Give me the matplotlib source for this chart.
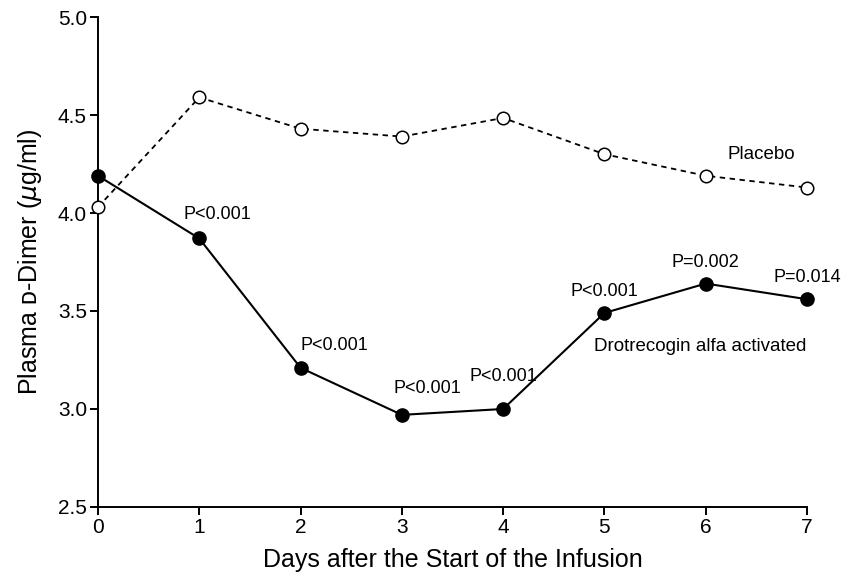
import matplotlib
matplotlib.use("Agg")
import matplotlib.pyplot as plt

days = [0, 1, 2, 3, 4, 5, 6, 7]
placebo = [4.03, 4.59, 4.43, 4.39, 4.485, 4.30, 4.19, 4.13]
drotrecogin = [4.19, 3.87, 3.21, 2.97, 3.00, 3.49, 3.64, 3.56]
p_labels = ["", "P<0.001", "P<0.001", "P<0.001", "P<0.001", "P<0.001", "P=0.002", "P=0.014"]
yticks = [2.5, 3.0, 3.5, 4.0, 4.5, 5.0]

plt.rcParams['font.family'] = ['Liberation Sans', 'DejaVu Sans']
plt.rcParams['mathtext.fontset'] = 'custom'
plt.rcParams['mathtext.it'] = 'DejaVu Sans:italic'

fig = plt.figure(figsize=(8.47, 5.79), dpi=100)
ax = fig.add_axes([0.1157, 0.1244, 0.8371, 0.8462])

ax.plot(days, placebo, linestyle=(0, (3, 2.5)), color='black', lw=1.3,
        marker='o', markersize=9, markerfacecolor='white', markeredgecolor='black',
        markeredgewidth=1.1, zorder=3, clip_on=False)
ax.plot(days, drotrecogin, linestyle='-', color='black', lw=1.5,
        marker='o', markersize=9.5, markerfacecolor='black', markeredgecolor='black',
        zorder=4, clip_on=False)

ax.set_xlim(0, 7)
ax.set_ylim(2.5, 5.0)
ax.set_xticks(days)
ax.set_yticks(yticks)
ax.set_yticklabels([f"{v:.1f}" for v in yticks])
ax.spines['top'].set_visible(False)
ax.spines['right'].set_visible(False)
for s in ['left', 'bottom']:
    ax.spines[s].set_linewidth(1.4)
ax.tick_params(direction='out', length=6, width=1.4, labelsize=15, pad=2)

ax.set_xlabel("Days after the Start of the Infusion", fontsize=18, labelpad=8)
ax.set_ylabel("Plasma \u1d05-Dimer ($\\mu$g/ml)", fontsize=18, labelpad=10)

# label offsets in pixels (dx, dy) from each marker to the label centre
offsets = {1: (18, 24), 2: (34, 22), 3: (26, 26), 4: (0, 32), 5: (0, 21), 6: (0, 21), 7: (0, 22)}
for d, lab in zip(days, p_labels):
    if lab:
        dx, dy = offsets[d]
        ax.annotate(lab, (d, drotrecogin[d]), xytext=(dx, dy), textcoords='offset pixels',
                    ha='center', va='center', fontsize=13, annotation_clip=False)

ax.text(6.55, 4.30, "Placebo", fontsize=13.5, ha='center', va='center')
ax.text(5.95, 3.32, "Drotrecogin alfa activated", fontsize=13.5, ha='center', va='center')

fig.savefig("out.png", dpi=100)
